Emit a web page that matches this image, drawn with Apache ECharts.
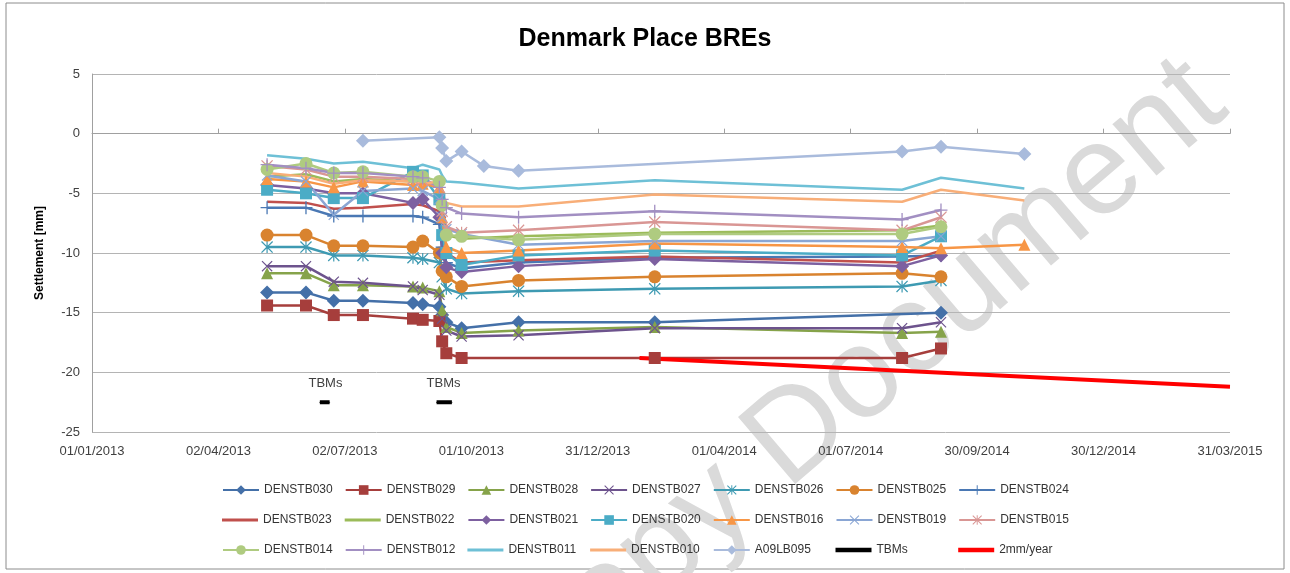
<!DOCTYPE html>
<html lang="en">
<head>
    <meta charset="UTF-8">
    <title>Denmark Place BREs</title>
    <style>
        body {
            margin: 0;
            background: #fff;
        }
        #chart {
            width: 1290px;
            height: 573px;
        }
    </style>
</head>
<body>
    <div id="chart"></div>
    <script src="https://cdn.jsdelivr.net/npm/echarts@6/dist/echarts.min.js"></script>
    <script>
        // survey dates shared by the monitoring points (null = not read that day)
        const surveyDates = [
            '2013-05-07', '2013-06-04', '2013-06-24', '2013-07-15', '2013-08-20', '2013-08-27',
            '2013-09-08', '2013-09-10', '2013-09-13', '2013-09-24', '2013-10-10', '2013-11-04',
            '2014-02-10', '2014-08-07', '2014-09-04', '2014-11-03'
        ];

        const DENSTB030 = [-13.3, -13.3, -14.0, -14.0, -14.2, -14.3, -14.5, -15.2, -15.8, -16.3, null, -15.8, -15.8, null, -15.0, null];
        const DENSTB029 = [-14.4, -14.4, -15.2, -15.2, -15.5, -15.6, -15.7, -17.4, -18.4, -18.8, null, null, -18.8, -18.8, -18.0, null];
        const DENSTB028 = [-11.7, -11.7, -12.7, -12.7, -12.8, -12.9, -13.2, -14.8, -16.2, -16.7, null, -16.5, -16.2, -16.7, -16.6, null];
        const DENSTB027 = [-11.1, -11.1, -12.4, -12.5, -12.8, -13.1, -13.5, -15.5, -16.5, -17.0, null, -16.9, -16.3, -16.3, -15.8, null];
        const DENSTB026 = [-9.5, -9.5, -10.2, -10.2, -10.4, -10.5, -10.8, -12.0, -13.0, -13.4, null, -13.2, -13.0, -12.8, -12.3, null];
        const DENSTB025 = [-8.5, -8.5, -9.4, -9.4, -9.5, -9.0, -10.0, -11.5, -12.0, -12.8, null, -12.3, -12.0, -11.7, -12.0, null];
        const DENSTB024 = [-6.2, -6.2, -6.9, -6.9, -6.9, -7.0, -7.6, -9.5, -10.8, -11.3, null, -10.8, -10.4, -10.3, -10.2, null];
        const DENSTB023 = [-5.7, -5.8, -6.3, -6.2, -5.9, -6.0, -6.5, -8.5, -10.0, -10.8, null, -10.6, -10.3, -10.8, -9.8, null];
        const DENSTB022 = [-3.6, -3.4, -4.0, -3.8, -4.0, -4.1, -4.5, -7.5, -8.5, -8.8, null, -8.6, -8.3, -8.1, -7.7, null];
        const DENSTB021 = [-4.3, -4.6, -5.0, -5.0, -5.8, -5.5, -7.0, -10.0, -11.2, -11.6, null, -11.1, -10.5, -11.1, -10.2, null];
        const DENSTB020 = [-4.7, -5.0, -5.4, -5.4, -3.2, -3.5, -5.5, -8.5, -10.0, -11.0, null, -10.2, -9.8, -10.2, -8.6, null];
        const DENSTB016 = [-3.8, -4.0, -4.5, -4.0, -4.3, -4.2, -4.5, -7.0, -9.5, -10.0, null, -9.8, -9.2, -9.5, -9.6, -9.3];
        const DENSTB019 = [-3.5, -4.0, -6.8, -4.8, -4.6, -4.8, -5.5, -7.0, -8.0, -8.4, null, -9.3, -9.0, -9.0, -8.6, null];
        const DENSTB015 = [-2.7, -3.0, -3.6, -3.6, -3.8, -3.9, -4.5, -6.5, -7.8, -8.3, null, -8.1, -7.4, -8.1, -7.0, null];
        const DENSTB014 = [-3.0, -2.5, -3.3, -3.2, -3.6, -3.6, -4.0, -6.0, -8.5, -8.6, null, -8.9, -8.4, -8.4, -7.8, null];
        const DENSTB012 = [-2.6, -2.9, -3.3, -3.3, -3.6, -3.7, -4.5, -5.5, -6.2, -6.7, null, -7.0, -6.5, -7.2, -6.4, null];
        const DENSTB011 = [-1.8, -2.1, -2.5, -2.35, -2.9, -2.6, -3.0, -3.5, -4.0, -4.1, null, -4.6, -3.9, -4.7, -3.7, -4.6];
        const DENSTB010 = [-3.3, -3.6, -4.2, -3.9, -4.0, -4.2, -4.0, -5.0, -5.8, -6.1, null, -6.1, -5.1, -5.7, -4.7, -5.6];
        const A09LB095 = [null, null, null, -0.6, null, null, -0.3, -1.2, -2.3, -1.5, -2.7, -3.1, null, -1.5, -1.1, -1.7];

        // TBM passages and the 2mm/year trend
        const tbmRuns = [
            ['2013-06-14', '2013-06-18', '2013-06-21'],
            ['2013-09-06', '2013-09-11', '2013-09-17']
        ];
        const tbmLevel = -22.5;
        const trendDates = ['2014-01-30', '2015-03-31'];
        const trendValues = [-18.8, -21.2];

        const yTicks = { min: -25, max: 5, step: 5 };

        const DAY = 86400000;
        const ORIGIN = Date.parse('2013-01-01');
        const toDay = s => (Date.parse(s) - ORIGIN) / DAY;
        const pad = n => (n < 10 ? '0' : '') + n;
        const fmtDay = v => {
            const d = new Date(ORIGIN + Math.round(v) * DAY);
            return pad(d.getUTCDate()) + '/' + pad(d.getUTCMonth() + 1) + '/' + d.getUTCFullYear();
        };

        const symX = 'path://M0,1.5L1.5,0L10,8.5L18.5,0L20,1.5L11.5,10L20,18.5L18.5,20L10,11.5L1.5,20L0,18.5L8.5,10Z';
        const symPlus = 'path://M9,0H11V9H20V11H11V20H9V11H0V9H9Z';
        const symStar = 'path://M0,1.5L1.5,0L10,8.5L18.5,0L20,1.5L11.5,10L20,18.5L18.5,20L10,11.5L1.5,20L0,18.5L8.5,10ZM9,0H11V20H9Z';
        const thinLine = 'path://M0,0H36V3H0Z';
        const thickLine = 'path://M0,0H36V4.5H0Z';

        // name, values, colour, marker, marker size
        const points = [
            ['DENSTB030', DENSTB030, '#4470A8', 'diamond', 14],
            ['DENSTB029', DENSTB029, '#A63E3C', 'rect', 12],
            ['DENSTB028', DENSTB028, '#86A34A', 'triangle', 12],
            ['DENSTB027', DENSTB027, '#6D538D', symX, 11],
            ['DENSTB026', DENSTB026, '#3E9AB2', symStar, 12],
            ['DENSTB025', DENSTB025, '#D9832F', 'circle', 13],
            ['DENSTB024', DENSTB024, '#4A78B4', symPlus, 13],
            ['DENSTB023', DENSTB023, '#C0504D', 'none', 0],
            ['DENSTB022', DENSTB022, '#9BBB59', 'none', 0],
            ['DENSTB021', DENSTB021, '#7D60A0', 'diamond', 14],
            ['DENSTB020', DENSTB020, '#4BACC6', 'rect', 12],
            ['DENSTB016', DENSTB016, '#F79646', 'triangle', 12],
            ['DENSTB019', DENSTB019, '#8AA6D4', symX, 11],
            ['DENSTB015', DENSTB015, '#D99694', symStar, 12],
            ['DENSTB014', DENSTB014, '#AFCB80', 'circle', 13],
            ['DENSTB012', DENSTB012, '#A28FC2', symPlus, 13],
            ['DENSTB011', DENSTB011, '#6EC0D6', 'none', 0],
            ['DENSTB010', DENSTB010, '#F8AE78', 'none', 0],
            ['A09LB095', A09LB095, '#A9BBDC', 'diamond', 14]
        ];

        const series = points.map(([name, vals, color, symbol, size]) => ({
            name: name,
            type: 'line',
            data: surveyDates.map((d, i) => [toDay(d), vals[i]]).filter(p => p[1] !== null),
            symbol: symbol,
            symbolSize: size,
            showSymbol: symbol !== 'none',
            color: color,
            lineStyle: { width: 2.5, color: color },
            itemStyle: { color: color },
            animation: false
        }));

        tbmRuns.forEach(run => {
            series.push({
                name: 'TBMs',
                type: 'line',
                symbol: 'circle',
                symbolSize: 1,
                color: '#000',
                lineStyle: { width: 4, color: '#000' },
                itemStyle: { color: '#000' },
                data: run.map((d, i) => ({
                    value: [toDay(d), tbmLevel],
                    label: i === 1 ? {
                        show: true, formatter: 'TBMs', position: 'top', distance: 12,
                        color: '#404040', fontSize: 13, fontFamily: 'Liberation Sans'
                    } : { show: false }
                })),
                animation: false
            });
        });

        series.push({
            name: '2mm/year',
            type: 'line',
            symbol: 'none',
            color: '#FF0000',
            lineStyle: { width: 4, color: '#FF0000' },
            data: trendDates.map((d, i) => [toDay(d), trendValues[i]]),
            animation: false
        });

        const noMarker = { DENSTB023: '#C0504D', DENSTB022: '#9BBB59', DENSTB011: '#6EC0D6', DENSTB010: '#F8AE78' };
        const boldLine = { 'TBMs': '#000', '2mm/year': '#FF0000' };
        const legendItem = name => {
            if (noMarker[name]) return { name: name, icon: thinLine, itemStyle: { color: noMarker[name] } };
            if (boldLine[name]) return { name: name, icon: thickLine, itemStyle: { color: boldLine[name] } };
            return name;
        };

        const legendRows = [
            ['DENSTB030', 'DENSTB029', 'DENSTB028', 'DENSTB027', 'DENSTB026', 'DENSTB025', 'DENSTB024'],
            ['DENSTB023', 'DENSTB022', 'DENSTB021', 'DENSTB020', 'DENSTB016', 'DENSTB019', 'DENSTB015'],
            ['DENSTB014', 'DENSTB012', 'DENSTB011', 'DENSTB010', 'A09LB095', 'TBMs', '2mm/year']
        ];

        // one legend per cell so the columns line up like the original grid
        const legends = [];
        legendRows.forEach((row, r) => {
            row.forEach((name, c) => {
                legends.push({
                    data: [legendItem(name)],
                    left: 222 + c * 122.7,
                    top: 484 + r * 30,
                    padding: 0,
                    itemWidth: 36,
                    itemHeight: 12,
                    selectedMode: false,
                    textStyle: { fontSize: 12, color: '#333' }
                });
            });
        });

        const chart = echarts.init(document.getElementById('chart'));
        chart.setOption({
            textStyle: { fontFamily: 'Liberation Sans' },
            title: {
                text: 'Denmark Place BREs',
                left: 'center',
                top: 22,
                textStyle: { fontSize: 25, fontWeight: 'bold', color: '#000', fontFamily: 'Liberation Sans' }
            },
            legend: legends,
            grid: { left: 92, right: 60, top: 74, bottom: 141 },
            xAxis: {
                type: 'value',
                min: 0,
                max: 819,
                interval: 91,
                axisLine: { show: true, lineStyle: { color: '#A0A0A0', width: 1 } },
                axisTick: { show: true, inside: true, length: 5, lineStyle: { color: '#A0A0A0' } },
                splitLine: { show: false },
                axisLabel: { formatter: fmtDay, fontSize: 13, color: '#404040', margin: 13 }
            },
            yAxis: {
                type: 'value',
                min: yTicks.min,
                max: yTicks.max,
                interval: yTicks.step,
                name: 'Settlement [mm]',
                nameLocation: 'middle',
                nameGap: 46,
                nameTextStyle: { fontSize: 12, fontWeight: 'bold', color: '#000' },
                axisLine: { show: true, lineStyle: { color: '#A0A0A0', width: 1 } },
                axisTick: { show: false },
                splitLine: { lineStyle: { color: '#B4B4B4', width: 1 } },
                axisLabel: { fontSize: 13, color: '#404040', margin: 12 }
            },
            graphic: [
                {
                    type: 'rect',
                    shape: { x: 6, y: 3, width: 1278, height: 566 },
                    style: { fill: 'none', stroke: '#8C8C8C', lineWidth: 1 },
                    silent: true,
                    z: -20
                },
                {
                    type: 'text',
                    x: 1208,
                    y: 85,
                    rotation: 40.5 * Math.PI / 180,
                    style: {
                        text: 'Copy Document',
                        fill: '#DADADA',
                        font: '128px "Liberation Sans"',
                        align: 'right',
                        verticalAlign: 'middle'
                    },
                    silent: true,
                    z: -10
                }
            ],
            series: series
        });
    </script>
</body>
</html>
